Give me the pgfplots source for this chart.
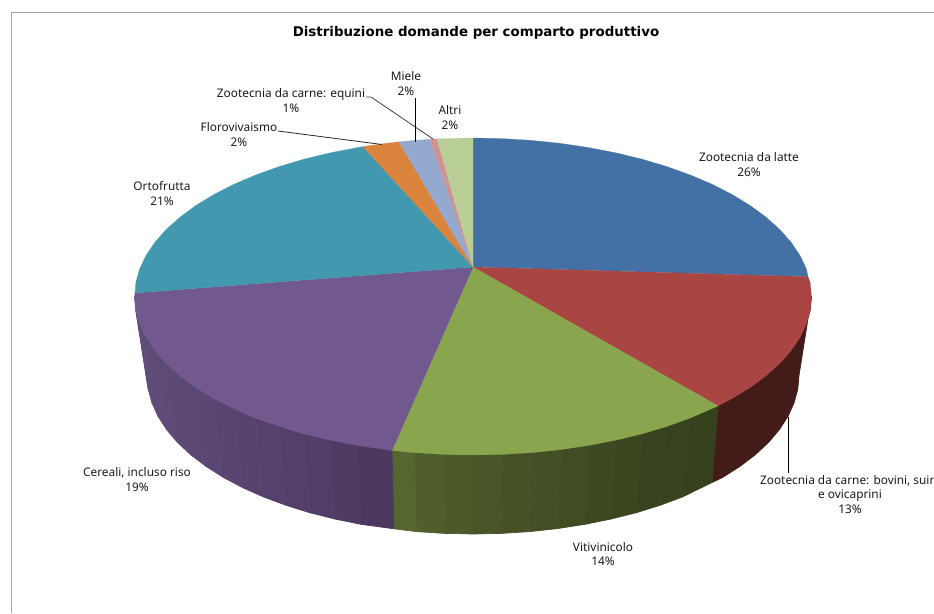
\documentclass[border=0pt]{standalone}
\usepackage{pgfplots}
\usepackage{fontspec}
\pgfplotsset{compat=1.18}
\setmainfont{Noto Sans}
\newfontfamily\titlefont{DejaVu Sans}
\definecolor{cblue}{HTML}{4370A5}
\definecolor{cred}{HTML}{A94543}
\definecolor{cgreen}{HTML}{89A54E}
\definecolor{cpurple}{HTML}{71588F}
\definecolor{cteal}{HTML}{4198AF}
\definecolor{corange}{HTML}{DB843D}
\definecolor{cperi}{HTML}{93A9CF}
\definecolor{cpink}{HTML}{D19392}
\definecolor{clime}{HTML}{B9CD96}
\definecolor{cframe}{HTML}{A6A6A6}
\definecolor{ctext}{HTML}{1A1A1A}
\tikzset{lab/.style={font=\fontsize{11.85}{14.5}\selectfont,align=center,text=ctext,inner sep=0pt}}
% one band of the pie's outer wall, in its own shade; the stroke closes the seams
\newcommand\band[4]{\addplot[fill={rgb,255:red,#1;green,#2;blue,#3},draw={rgb,255:red,#1;green,#2;blue,#3},line width=0.7pt,line join=round] coordinates {#4} -- cycle;}
\begin{document}
\begin{tikzpicture}
\begin{axis}[
  at={(0,0)},anchor=south west,
  scale only axis,width=934pt,height=613pt,
  xmin=0,xmax=934,ymin=0,ymax=613,y dir=reverse,
  axis lines=none,clip=false,
  every axis plot/.append style={mark=none,forget plot},
]
% chart frame
\addplot[cframe,line width=1pt] coordinates {(11.5,613) (11.5,12.5) (934,12.5)};

% outer wall: Zootecnia da carne (bovini, suini e ovicaprini)
\band{67}{28}{25}{(811.5,296.5)(810.2,310.3)(806.4,324)(800,337.5)(791.1,350.7)(779.8,363.5)(766.1,375.75)(750.3,387.4)(732.3,398.4)(718,405.9)(712,482.5)(722.7,477.4)(740,466.4)(755.3,454.75)(768.5,442.5)(779.3,429.7)(787.9,416.5)(794,403)(797.8,389.3)(799,375.5)}
% outer wall: Vitivinicolo
\band{54}{66}{30}{(718,405.9)(690.6,417.9)(682.6,496.9)(712,482.5)}
\band{55}{67}{31}{(690.6,417.9)(667.2,426.3)(660,505.3)(682.6,496.9)}
\band{56}{68}{31}{(667.2,426.3)(642.3,433.8)(636,512.8)(660,505.3)}
\band{58}{70}{32}{(642.3,433.8)(616.1,440.1)(610.8,519.1)(636,512.8)}
\band{61}{73}{33}{(616.1,440.1)(588.8,445.4)(584.5,524.4)(610.8,519.1)}
\band{64}{76}{35}{(588.8,445.4)(560.6,449.6)(557.4,528.6)(584.5,524.4)}
\band{67}{79}{36}{(560.6,449.6)(531.8,452.6)(529.6,531.6)(557.4,528.6)}
\band{70}{82}{38}{(531.8,452.6)(502.5,454.4)(501.4,533.4)(529.6,531.6)}
\band{73}{85}{39}{(502.5,454.4)(473,455)(473,534)(501.4,533.4)}
\band{76}{89}{41}{(473,455)(443.5,454.4)(444.6,533.4)(473,534)}
\band{80}{94}{43}{(443.5,454.4)(414.2,452.6)(416.4,531.6)(444.6,533.4)}
\band{86}{102}{47}{(414.2,452.6)(392,450.5)(394,528.8)(416.4,531.6)}
% outer wall: Cereali, incluso riso
\band{77}{57}{95}{(392,450.5)(357.2,445.4)(361.5,524.4)(394,528.8)}
\band{79}{59}{98}{(357.2,445.4)(329.9,440.1)(335.2,519.1)(361.5,524.4)}
\band{81}{61}{101}{(329.9,440.1)(303.7,433.8)(310,512.8)(335.2,519.1)}
\band{83}{63}{104}{(303.7,433.8)(278.8,426.3)(286,505.3)(310,512.8)}
\band{85}{65}{107}{(278.8,426.3)(255.4,417.9)(263.4,496.9)(286,505.3)}
\band{87}{67}{110}{(255.4,417.9)(233.6,408.6)(242.5,487.6)(263.4,496.9)}
\band{89}{69}{112}{(233.6,408.6)(213.7,398.4)(223.3,477.4)(242.5,487.6)}
\band{91}{71}{115}{(213.7,398.4)(195.7,387.4)(206,466.4)(223.3,477.4)}
\band{92}{72}{116}{(195.7,387.4)(179.9,375.75)(190.7,454.75)(206,466.4)}
\band{93}{73}{117}{(179.9,375.75)(166.2,363.5)(177.5,442.5)(190.7,454.75)}
\band{94}{74}{118}{(166.2,363.5)(154.9,350.7)(166.7,429.7)(177.5,442.5)}
\band{95}{75}{119}{(154.9,350.7)(146,337.5)(158.1,416.5)(166.7,429.7)}
\band{96}{76}{120}{(146,337.5)(139.6,324)(152,403)(158.1,416.5)}
\band{97}{77}{121}{(139.6,324)(135.8,310.3)(148.2,389.3)(152,403)}
\band{98}{78}{122}{(135.8,310.3)(134.5,296.5)(147,375.5)(148.2,389.3)}

% top face, slice by slice
\addplot[fill=cblue,draw=cblue,line width=0.2pt] coordinates {(473,267)(473,138)(502.5,138.6)(531.8,140.4)(560.6,143.4)(588.8,147.6)(616.1,152.9)(642.3,159.2)(667.2,166.7)(690.6,175.1)(712.4,184.4)(732.3,194.6)(750.3,205.6)(766.1,217.25)(779.8,229.5)(791.1,242.3)(800,255.5)(806.4,269)(808,276.7)} -- cycle;
\addplot[fill=cred,draw=cred,line width=0.2pt] coordinates {(473,267)(808,276.7)(810.2,282.7)(811.5,296.5)(810.2,310.3)(806.4,324)(800,337.5)(791.1,350.7)(779.8,363.5)(766.1,375.75)(750.3,387.4)(732.3,398.4)(718,405.9)} -- cycle;
\addplot[fill=cgreen,draw=cgreen,line width=0.2pt] coordinates {(473,267)(718,405.9)(690.6,417.9)(667.2,426.3)(642.3,433.8)(616.1,440.1)(588.8,445.4)(560.6,449.6)(531.8,452.6)(502.5,454.4)(473,455)(443.5,454.4)(414.2,452.6)(392,450.5)} -- cycle;
\addplot[fill=cpurple,draw=cpurple,line width=0.2pt] coordinates {(473,267)(392,450.5)(357.2,445.4)(329.9,440.1)(303.7,433.8)(278.8,426.3)(255.4,417.9)(233.6,408.6)(213.7,398.4)(195.7,387.4)(179.9,375.75)(166.2,363.5)(154.9,350.7)(146,337.5)(139.6,324)(135.8,310.3)(134.5,296.5)(135,293)} -- cycle;
\addplot[fill=cteal,draw=cteal,line width=0.2pt] coordinates {(473,267)(135,293)(135.8,282.7)(139.6,269)(146,255.5)(154.9,242.3)(166.2,229.5)(179.9,217.25)(195.7,205.6)(213.7,194.6)(233.6,184.4)(255.4,175.1)(278.8,166.7)(303.7,159.2)(329.9,152.9)(357.2,147.6)(363,146.6)} -- cycle;
\addplot[fill=corange,draw=corange,line width=0.2pt] coordinates {(473,267)(363,146.6)(385.4,143.4)(399,141.8)} -- cycle;
\addplot[fill=cperi,draw=cperi,line width=0.2pt] coordinates {(473,267)(399,141.8)(414.2,140.4)(430,139.3)} -- cycle;
\addplot[fill=cpink,draw=cpink,line width=0.2pt] coordinates {(473,267)(430,139.3)(437,138.9)} -- cycle;
\addplot[fill=clime,draw=clime,line width=0.2pt] coordinates {(473,267)(437,138.9)(443.5,138.6)(473,138)} -- cycle;

% leader lines
\addplot[black!85,line width=0.8pt] coordinates {(278,131)(382,144.5)};
\addplot[black!75,line width=0.8pt] coordinates {(366,97)(371,97)(433,139)};
\addplot[black,line width=0.8pt] coordinates {(415,98)(415,141.5)};
\addplot[black,line width=0.8pt] coordinates {(788,417)(788,473)};

% title and slice labels
\node[font=\titlefont\bfseries\fontsize{13.4}{15}\selectfont,text=black,inner sep=0pt] at (axis cs:476,33) {Distribuzione domande per comparto produttivo};
\node[lab] at (axis cs:749,164.5) {Zootecnia da latte\\26\%};
\node[lab] at (axis cs:850,494.5) {Zootecnia da carne: bovini, suini\\e ovicaprini\\13\%};
\node[lab] at (axis cs:603,554) {Vitivinicolo\\14\%};
\node[lab] at (axis cs:137,479.5) {Cereali, incluso riso\\19\%};
\node[lab] at (axis cs:162,193.5) {Ortofrutta\\21\%};
\node[lab] at (axis cs:239,134.5) {Florovivaismo\\2\%};
\node[lab] at (axis cs:291,100.5) {Zootecnia da carne: equini\\1\%};
\node[lab] at (axis cs:406,83.5) {Miele\\2\%};
\node[lab] at (axis cs:450,117.5) {Altri\\2\%};
\end{axis}
\pgfresetboundingbox
\useasboundingbox (0,0) rectangle (934pt,613pt);
\end{tikzpicture}
\end{document}
